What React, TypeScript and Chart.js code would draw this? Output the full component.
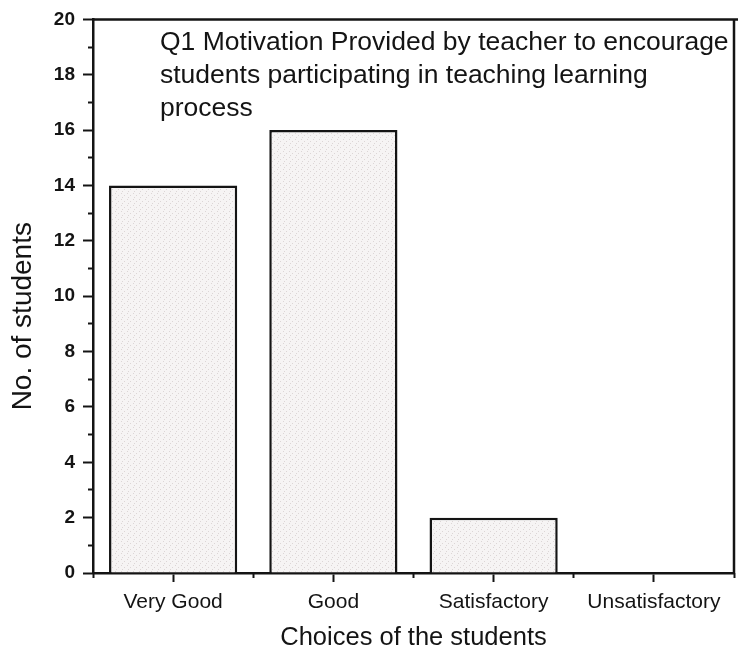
import { useEffect, useRef } from "react";
import { Chart, registerables } from "chart.js";

Chart.register(...registerables);

const categories = ["Very Good", "Good", "Satisfactory", "Unsatisfactory"];
const students = [14, 16, 2, 0];
const yMajorTicks = [0, 2, 4, 6, 8, 10, 12, 14, 16, 18, 20];
const yMinorTicks = [1, 3, 5, 7, 9, 11, 13, 15, 17, 19];
const titleLines = [
  "Q1 Motivation Provided by teacher to encourage",
  "students participating in teaching learning",
  "process",
];
const xAxisTitle = "Choices of the students";
const yAxisTitle = "No. of students";

const FONT = '"Liberation Sans", Arial, sans-serif';
const INK = "#141414";

const framePlugin = {
  id: "frameAndText",
  afterDraw(chart: any) {
    const { ctx, chartArea } = chart;
    ctx.save();
    // top and right frame lines
    ctx.strokeStyle = INK;
    ctx.lineWidth = 2.5;
    ctx.beginPath();
    ctx.moveTo(chartArea.left, chartArea.top);
    ctx.lineTo(chart.width, chartArea.top);
    ctx.moveTo(chartArea.right, chartArea.top);
    ctx.lineTo(chartArea.right, chartArea.bottom);
    ctx.stroke();
    // title text inside the plot
    ctx.font = `26.5px ${FONT}`;
    ctx.fillStyle = INK;
    ctx.textBaseline = "middle";
    ctx.textAlign = "left";
    titleLines.forEach((line, i) => {
      ctx.fillText(line, chartArea.left + 67, chartArea.top + 23 + i * 33);
    });
    // y axis title
    ctx.font = `28px ${FONT}`;
    ctx.textAlign = "center";
    ctx.translate(23, (chartArea.top + chartArea.bottom) / 2 + 20);
    ctx.rotate(-Math.PI / 2);
    ctx.fillText(yAxisTitle, 0, 0);
    ctx.restore();
  },
};

export default function App() {
  const canvasRef = useRef<HTMLCanvasElement | null>(null);

  useEffect(() => {
    const canvas = canvasRef.current;
    if (!canvas) return;
    const ctx = canvas.getContext("2d")!;

    const pc = document.createElement("canvas");
    pc.width = 6;
    pc.height = 6;
    const p = pc.getContext("2d")!;
    p.fillStyle = "#f6f4f4";
    p.fillRect(0, 0, 6, 6);
    p.fillStyle = "#dcd6d6";
    p.fillRect(1, 1, 1, 1);
    p.fillRect(4, 3, 1, 1);
    p.fillRect(2, 5, 1, 1);
    const pattern = ctx.createPattern(pc, "repeat") || "#efeded";

    const tickGrid = (len: number) => ({
      display: true,
      drawOnChartArea: false,
      drawTicks: true,
      tickLength: len,
      tickColor: INK,
      tickWidth: 2,
    });

    const chart = new Chart(canvas, {
      type: "bar",
      data: {
        labels: categories,
        datasets: [
          {
            data: students,
            xAxisID: "x",
            yAxisID: "y",
            backgroundColor: pattern as any,
            borderColor: INK,
            borderWidth: 2.5,
            borderSkipped: "start",
            barPercentage: 0.8,
            categoryPercentage: 1,
          },
        ],
      },
      options: {
        responsive: false,
        animation: false,
        devicePixelRatio: 1,
        layout: { padding: { top: 17, right: 4, left: 0, bottom: 0 } },
        plugins: {
          legend: { display: false },
          tooltip: { enabled: false },
          title: { display: false },
        },
        scales: {
          x: {
            type: "category",
            position: "bottom",
            weight: 1,
            offset: true,
            afterFit: (scale: any) => {
              scale.height = 86;
            },
            border: { display: true, color: INK, width: 2.5 },
            grid: { ...tickGrid(9), offset: false },
            ticks: {
              autoSkip: false,
              maxRotation: 0,
              minRotation: 0,
              padding: 8,
              color: INK,
              font: { family: FONT, size: 21 },
            },
            title: {
              display: true,
              text: xAxisTitle,
              color: INK,
              font: { family: FONT, size: 25.5 },
              padding: { top: 4, bottom: 6 },
            },
          },
          xMinor: {
            type: "category",
            position: "bottom",
            weight: 0,
            offset: true,
            afterFit: (scale: any) => {
              scale.height = 0;
            },
            border: { display: false },
            grid: { ...tickGrid(5), offset: true },
            ticks: { display: false },
          },
          y: {
            type: "linear",
            position: "left",
            weight: 1,
            min: 0,
            max: 20,
            afterFit: (scale: any) => {
              scale.width = 93;
            },
            afterBuildTicks: (scale: any) => {
              scale.ticks = yMajorTicks.map((v) => ({ value: v }));
            },
            border: { display: true, color: INK, width: 2.5 },
            grid: tickGrid(10),
            ticks: {
              autoSkip: false,
              padding: 8,
              color: INK,
              font: { family: FONT, size: 19, weight: "bold" },
            },
          },
          yMinor: {
            type: "linear",
            position: "left",
            weight: 0,
            min: 0,
            max: 20,
            afterFit: (scale: any) => {
              scale.width = 0;
            },
            afterBuildTicks: (scale: any) => {
              scale.ticks = yMinorTicks.map((v) => ({ value: v }));
            },
            border: { display: false },
            grid: tickGrid(5),
            ticks: { display: false },
          },
        },
      },
      plugins: [framePlugin],
    });

    return () => {
      chart.destroy();
    };
  }, []);

  return (
    <div style={{ position: "fixed", left: 0, top: 0, width: 738, height: 659, background: "#ffffff" }}>
      <canvas ref={canvasRef} width={738} height={659} style={{ display: "block" }} />
    </div>
  );
}
